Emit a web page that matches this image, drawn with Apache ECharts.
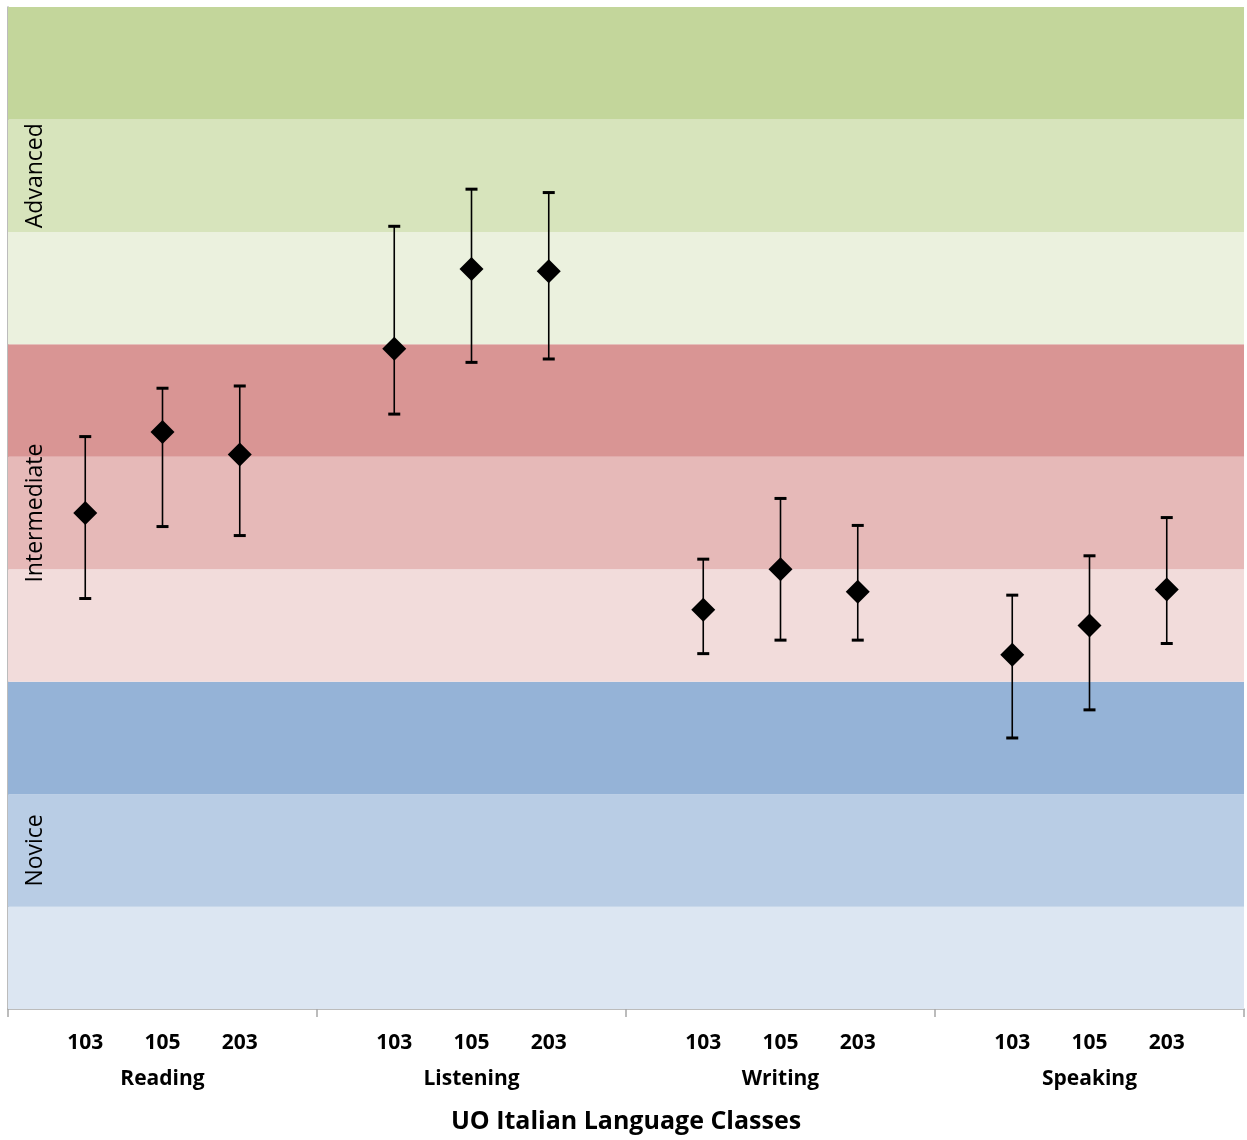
<!DOCTYPE html>
<html>
<head>
<meta charset="utf-8">
<script src="https://cdn.jsdelivr.net/npm/echarts@6/dist/echarts.min.js"></script>
<style>
  html, body { margin: 0; padding: 0; background: #fff; }
  #chart { width: 1247px; height: 1140px; }
</style>
</head>
<body>
<div id="chart"></div>
<script>
var courses = ['103', '105', '203'];
var skills = ['Reading', 'Listening', 'Writing', 'Speaking'];
// mean score and error bar ends, order: skill by skill, course 103/105/203
var means = [4.50, 5.22, 5.02, 5.96, 6.67, 6.65, 3.64, 4.00, 3.80, 3.24, 3.50, 3.82];
var upper = [5.18, 5.61, 5.63, 7.05, 7.38, 7.35, 4.09, 4.63, 4.39, 3.77, 4.12, 4.46];
var lower = [3.74, 4.38, 4.30, 5.38, 5.84, 5.87, 3.25, 3.37, 3.37, 2.50, 2.75, 3.34];
// proficiency bands (sublevels low/mid/high)
var levels = ['Novice', 'Intermediate', 'Advanced'];
var yMin = 0.09, yMax = 9;
var bandEdges = [yMin, 1, 2, 3, 4, 5, 6, 7, 8, 9];
var bandColors = ['#DCE6F2', '#B9CDE5', '#95B3D7', '#F2DCDB', '#E6B9B8', '#D99594', '#EBF1DE', '#D7E4BC', '#C3D69B'];

var FONT = '"Open Sans"';

// x slots: a blank slot before each group, plus one at the end
var slots = [];
skills.forEach(function (s, g) {
  slots.push('');
  courses.forEach(function (c) { slots.push(c); });
});
slots.push('');

var points = [];
var bars = [];
means.forEach(function (m, i) {
  var g = Math.floor(i / courses.length);
  var slot = g * (courses.length + 1) + (i % courses.length) + 1;
  points.push([slot, m]);
  bars.push([slot, lower[i], upper[i]]);
});

var areas = [];
for (var b = 0; b < bandColors.length; b++) {
  var lvl = Math.floor(b / 3);
  var isMid = b % 3 === 1;
  areas.push([{
    yAxis: bandEdges[b],
    itemStyle: { color: bandColors[b], opacity: 1 },
    label: {
      show: isMid,
      formatter: levels[lvl],
      position: 'insideLeft',
      rotate: 90,
      align: 'center',
      verticalAlign: 'middle',
      distance: 27,
      color: '#000',
      fontFamily: FONT,
      fontSize: 23
    }
  }, { yAxis: bandEdges[b + 1] }]);
}

var chart = echarts.init(document.getElementById('chart'));
chart.setOption({
  backgroundColor: '#fff',
  animation: false,
  grid: { left: 8, right: 1, top: 7, bottom: 131 },
  xAxis: {
    type: 'category',
    data: slots,
    boundaryGap: false,
    name: 'UO Italian Language Classes',
    nameLocation: 'middle',
    nameGap: 100,
    nameTextStyle: { fontFamily: FONT, fontSize: 25, fontWeight: 'bold', color: '#000' },
    axisLine: { lineStyle: { color: '#A6A6A6', width: 1.5 } },
    axisTick: {
      interval: function (idx) { return idx % 4 === 0; },
      length: 8,
      lineStyle: { color: '#A6A6A6', width: 1.5 }
    },
    axisLabel: {
      interval: 0,
      margin: 18,
      formatter: function (val, idx) {
        if (!val) return '';
        var g = Math.floor(idx / 4);
        if (idx % 4 === 2) return '{c|' + val + '}\n{g|' + skills[g] + '}';
        return '{c|' + val + '}';
      },
      rich: {
        c: { fontFamily: FONT, fontSize: 21, fontWeight: 'bold', color: '#000', lineHeight: 32 },
        g: { fontFamily: FONT, fontSize: 21, fontWeight: 'bold', color: '#000', lineHeight: 40 }
      }
    },
    splitLine: { show: false }
  },
  yAxis: {
    type: 'value',
    min: yMin,
    max: yMax,
    axisLine: { show: true, lineStyle: { color: '#A6A6A6', width: 1.5 } },
    axisTick: { show: false },
    axisLabel: { show: false },
    splitLine: { show: false }
  },
  series: [
    {
      type: 'custom',
      z: 2,
      data: bars,
      renderItem: function (params, api) {
        var x = api.value(0);
        var lo = api.coord([x, api.value(1)]);
        var hi = api.coord([x, api.value(2)]);
        var cap = 6;
        var style = { stroke: '#000', lineWidth: 1.6 };
        var capStyle = { stroke: '#000', lineWidth: 3 };
        return {
          type: 'group',
          children: [
            { type: 'line', shape: { x1: lo[0], y1: lo[1], x2: hi[0], y2: hi[1] }, style: style },
            { type: 'line', shape: { x1: lo[0] - cap, y1: lo[1], x2: lo[0] + cap, y2: lo[1] }, style: capStyle },
            { type: 'line', shape: { x1: hi[0] - cap, y1: hi[1], x2: hi[0] + cap, y2: hi[1] }, style: capStyle }
          ]
        };
      },
      markArea: { silent: true, data: areas }
    },
    {
      type: 'scatter',
      z: 3,
      symbol: 'diamond',
      symbolSize: [24, 24],
      itemStyle: { color: '#000', opacity: 1 },
      data: points
    }
  ]
});
</script>
</body>
</html>
